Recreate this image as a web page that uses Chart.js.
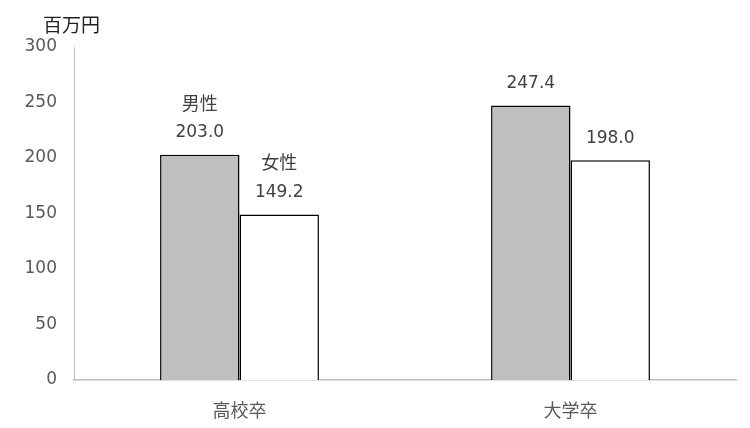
<!DOCTYPE html>
<html>
<head>
<meta charset="utf-8">
<script src="https://cdn.jsdelivr.net/npm/chart.js@4"></script>
<style>
  html, body { margin: 0; padding: 0; background: #fff; }
  #wrap { width: 750px; height: 428px; position: relative; }
</style>
</head>
<body>
<div id="wrap"><canvas id="c"></canvas></div>
<script>
const categories = ['高校卒', '大学卒'];
const maleValues = [203.0, 247.4];
const femaleValues = [149.2, 198.0];
const seriesNames = ['男性', '女性'];
const unitLabel = '百万円';

const FONT = '"DejaVu Sans", "Noto Sans CJK JP", sans-serif';
const CJK = '"Noto Sans CJK JP", sans-serif';

// value labels above bars, series name only on the first category
const barLabels = {
  id: 'barLabels',
  afterDatasetsDraw(chart) {
    const ctx = chart.ctx;
    ctx.save();
    ctx.fillStyle = '#404040';
    ctx.textAlign = 'center';
    ctx.textBaseline = 'middle';
    chart.data.datasets.forEach((ds, i) => {
      chart.getDatasetMeta(i).data.forEach((bar, j) => {
        const y = bar.y - 22;
        ctx.font = '17px ' + FONT;
        ctx.fillText(ds.data[j].toFixed(1), bar.x, y);
        if (j === 0) {
          ctx.font = '18px ' + CJK;
          ctx.fillText(seriesNames[i], bar.x, y - 30);
        }
      });
    });
    // unit
    ctx.fillStyle = '#222';
    ctx.font = '19px ' + CJK;
    ctx.textAlign = 'left';
    ctx.fillText(unitLabel, 43, 25);
    ctx.restore();
  }
};

new Chart(document.getElementById('c'), {
  type: 'bar',
  data: {
    labels: categories,
    datasets: [
      {
        label: seriesNames[0],
        data: maleValues,
        backgroundColor: '#bfbfbf',
        borderColor: '#000',
        borderWidth: 1.5
      },
      {
        label: seriesNames[1],
        data: femaleValues,
        backgroundColor: '#ffffff',
        borderColor: '#000',
        borderWidth: 1.5
      }
    ]
  },
  options: {
    responsive: true,
    maintainAspectRatio: false,
    animation: false,
    layout: { padding: { top: 47, right: 14, left: 0, bottom: 0 } },
    datasets: { bar: { categoryPercentage: 0.48, barPercentage: 1 } },
    plugins: {
      legend: { display: false },
      tooltip: { enabled: false }
    },
    scales: {
      x: {
        afterFit(scale) { scale.height = 48; },
        grid: { display: false, drawTicks: false },
        border: { color: '#bfbfbf', width: 1.5 },
        ticks: { color: '#595959', font: { size: 18, family: CJK }, padding: 19 }
      },
      y: {
        min: 0,
        max: 300,
        afterFit(scale) { scale.width = 74; },
        grid: { display: false, drawTicks: false },
        border: { color: '#bfbfbf', width: 1 },
        ticks: { stepSize: 50, color: '#595959', font: { size: 17, family: FONT }, padding: 17 }
      }
    }
  },
  plugins: [barLabels]
});
</script>
</body>
</html>
